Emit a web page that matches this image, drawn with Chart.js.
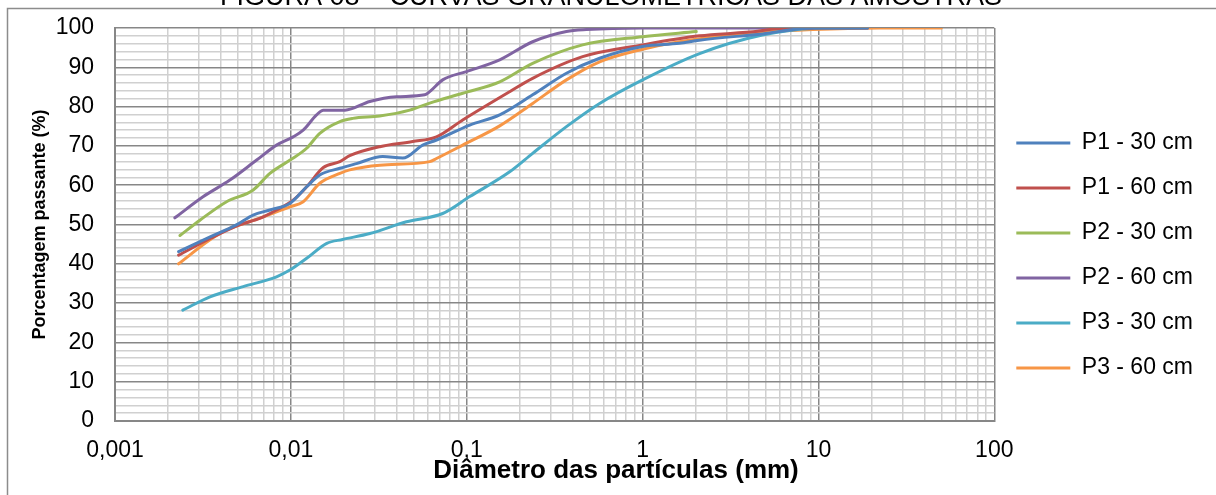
<!DOCTYPE html>
<html>
<head>
<meta charset="utf-8">
<script src="https://cdn.jsdelivr.net/npm/chart.js@4/dist/chart.umd.min.js"></script>
<style>
  html, body { margin: 0; padding: 0; background: #fff; }
</style>
</head>
<body>
<canvas id="grafico" width="1216" height="495"></canvas>
<script>
// titulo da figura (cortado no topo da imagem)
var figureTitle = "FIGURA 08 – CURVAS GRANULOMÉTRICAS DAS AMOSTRAS";
var xTitle = "Diâmetro das partículas (mm)";
var yTitle = "Porcentagem passante (%)";

var seriesNames = ["P1 - 30 cm", "P1 - 60 cm", "P2 - 30 cm", "P2 - 60 cm", "P3 - 30 cm", "P3 - 60 cm"];
var seriesColors = ["#4F81BD", "#C0504D", "#9BBB59", "#8064A2", "#4BACC6", "#F79646"];

// diametros (mm) e porcentagem passante de cada amostra
var p1_30_d = [0.0023, 0.0035, 0.0049, 0.0061, 0.0076, 0.0099, 0.0123, 0.0146, 0.019, 0.0236, 0.0333, 0.0433, 0.0562, 0.0673, 0.104, 0.154, 0.237, 0.369, 0.57, 1.0, 1.62, 2.1, 4.8, 9.25, 19];
var p1_30_p = [43.1, 46.9, 49.9, 52.4, 53.7, 55.4, 59.6, 62.6, 64.3, 65.5, 67.3, 66.9, 70.2, 71.5, 75.3, 77.9, 83.0, 88.5, 92.3, 95.3, 96.1, 96.9, 98.5, 100, 100];

var p1_60_d = [0.0023, 0.0035, 0.0051, 0.0067, 0.0083, 0.0103, 0.0123, 0.0153, 0.019, 0.0216, 0.032, 0.0493, 0.0673, 0.0949, 0.1755, 0.237, 0.456, 1.0, 2.11, 3.9, 6.84, 19];
var p1_60_p = [42.2, 46.5, 49.9, 51.6, 53.7, 56.2, 59.6, 64.5, 66.0, 67.5, 69.8, 71.1, 72.3, 76.6, 83.8, 87.2, 92.7, 95.7, 98.0, 98.9, 100, 100];

var p2_30_d = [0.00234, 0.00304, 0.00431, 0.00611, 0.0076, 0.0099, 0.0123, 0.0146, 0.019, 0.0225, 0.032, 0.0474, 0.0616, 0.0949, 0.154, 0.237, 0.456, 1.0, 2.02];
var p2_30_p = [47.2, 51.1, 55.8, 58.8, 63.0, 66.4, 69.4, 73.2, 76.2, 77.0, 77.6, 79.1, 80.9, 83.4, 86.3, 91.0, 95.7, 97.8, 99.1];

var p2_60_d = [0.00219, 0.00318, 0.0045, 0.00639, 0.00829, 0.0103, 0.01175, 0.014, 0.0153, 0.0203, 0.0281, 0.0399, 0.0577, 0.0616, 0.073, 0.0996, 0.154, 0.237, 0.369, 0.479, 1.0, 9.25];
var p2_60_p = [51.7, 57.1, 61.3, 66.4, 70.2, 72.3, 74.0, 77.9, 79.1, 79.1, 81.3, 82.5, 83.0, 83.8, 86.8, 88.9, 91.9, 96.5, 99.1, 99.6, 100, 100];

var p3_30_d = [0.00243, 0.00347, 0.00536, 0.00829, 0.00987, 0.0123, 0.016, 0.0197, 0.0281, 0.0454, 0.073, 0.104, 0.1755, 0.237, 0.369, 0.57, 1.0, 2.11, 4.8, 9.25, 19];
var p3_30_p = [28.2, 31.6, 34.2, 36.7, 38.4, 41.4, 45.2, 46.2, 47.7, 50.7, 52.8, 57.1, 63.4, 68.1, 74.9, 80.8, 86.8, 93.5, 98.2, 99.9, 100];

var p3_60_d = [0.0023, 0.00347, 0.00431, 0.00667, 0.00987, 0.01175, 0.0146, 0.019, 0.0216, 0.032, 0.0616, 0.0673, 0.0949, 0.154, 0.237, 0.369, 0.57, 1.0, 1.62, 3.9, 9.25, 22.2, 50];
var p3_60_p = [40.0, 46.1, 48.6, 51.6, 54.5, 55.8, 60.5, 63.0, 63.9, 65.1, 66.0, 66.8, 70.2, 75.1, 80.8, 86.8, 91.4, 94.6, 96.5, 98.6, 99.6, 100, 100];

// marcas dos eixos
var xDecades = [0.001, 0.01, 0.1, 1, 10, 100];
var yMajor = [0, 10, 20, 30, 40, 50, 60, 70, 80, 90, 100];

var allD = [p1_30_d, p1_60_d, p2_30_d, p2_60_d, p3_30_d, p3_60_d];
var allP = [p1_30_p, p1_60_p, p2_30_p, p2_60_p, p3_30_p, p3_60_p];

function toPoints(d, p) {
  return d.map(function (v, i) { return { x: v, y: p[i] }; });
}

function isDecade(v) {
  var l = Math.log10(v);
  return Math.abs(l - Math.round(l)) < 1e-9;
}

var datasets = seriesNames.map(function (name, i) {
  return {
    label: name,
    data: toPoints(allD[i], allP[i]),
    borderColor: seriesColors[i],
    backgroundColor: seriesColors[i],
    borderWidth: 3,
    borderCapStyle: "round",
    borderJoinStyle: "round",
    pointRadius: 0,
    pointHoverRadius: 0,
    fill: false,
    cubicInterpolationMode: "monotone"
  };
});

var fontFam = '"Liberation Sans", Arial, sans-serif';

// moldura, titulo da figura e titulo do eixo x
var moldura = {
  id: "moldura",
  beforeDraw: function (chart) {
    var c = chart.ctx;
    c.save();
    c.fillStyle = "#fff";
    c.fillRect(0, 0, chart.width, chart.height);
    c.strokeStyle = "#8c8c8c";
    c.lineWidth = 1.5;
    c.strokeRect(7.5, 8.5, chart.width + 20, chart.height + 20);
    c.fillStyle = "#000";
    c.font = "27px " + fontFam;
    c.textAlign = "center";
    c.textBaseline = "alphabetic";
    c.fillText(figureTitle, 611, 5);
    c.restore();
  },
  afterDraw: function (chart) {
    var c = chart.ctx;
    c.save();
    c.fillStyle = "#000";
    c.font = "bold 26px " + fontFam;
    c.textAlign = "center";
    c.textBaseline = "middle";
    c.fillText(xTitle, 616, 471);
    c.restore();
  }
};

var ctx = document.getElementById("grafico").getContext("2d");
var chart = new Chart(ctx, {
  type: "line",
  data: { datasets: datasets },
  plugins: [moldura],
  options: {
    responsive: false,
    animation: false,
    devicePixelRatio: 1,
    layout: { padding: { top: 22, left: 0, right: 13, bottom: 6 } },
    plugins: {
      legend: {
        position: "right",
        align: "center",
        labels: {
          usePointStyle: true,
          pointStyle: "line",
          pointStyleWidth: 54,
          padding: 22,
          color: "#000",
          font: { family: fontFam, size: 23 }
        }
      },
      tooltip: { enabled: false }
    },
    scales: {
      x: {
        type: "logarithmic",
        min: 0.001,
        max: 100,
        afterBuildTicks: function (s) {
          var t = [];
          for (var i = 0; i < xDecades.length - 1; i++) {
            for (var k = 1; k <= 9; k++) {
              t.push({ value: Number((k * xDecades[i]).toPrecision(6)), major: k === 1 });
            }
          }
          t.push({ value: xDecades[xDecades.length - 1], major: true });
          s.ticks = t;
        },
        afterFit: function (s) { s.height = 68; },
        ticks: {
          autoSkip: false,
          maxRotation: 0,
          padding: 16,
          color: "#000",
          font: { family: fontFam, size: 23 },
          callback: function (v) {
            return isDecade(v) ? String(v).replace(".", ",") : "";
          }
        },
        grid: {
          drawTicks: false,
          lineWidth: 1.5,
          color: function (c) {
            return c.tick && isDecade(c.tick.value) ? "#878787" : "#d0d0d0";
          }
        },
        border: { color: "#878787", width: 2 }
      },
      y: {
        type: "linear",
        min: 0,
        max: 100,
        afterBuildTicks: function (s) {
          var t = [];
          for (var i = 0; i < yMajor.length; i++) {
            t.push({ value: yMajor[i] });
            if (i < yMajor.length - 1) {
              for (var k = 1; k < 5; k++) t.push({ value: yMajor[i] + k * (yMajor[i + 1] - yMajor[i]) / 5 });
            }
          }
          s.ticks = t;
        },
        afterFit: function (s) {
          s.width = 115;
          s.paddingTop = 28;
        },
        ticks: {
          autoSkip: false,
          padding: 21,
          color: "#000",
          font: { family: fontFam, size: 23 },
          callback: function (v) { return v % 10 === 0 ? v : ""; }
        },
        grid: {
          drawTicks: false,
          lineWidth: 1.5,
          color: function (c) {
            return c.tick && c.tick.value % 10 === 0 ? "#878787" : "#d0d0d0";
          }
        },
        border: { color: "#878787", width: 2 },
        title: {
          display: true,
          text: yTitle,
          color: "#000",
          font: { family: fontFam, size: 18, weight: "bold" },
          padding: { top: 29, bottom: 29 }
        }
      }
    }
  }
});
</script>
</body>
</html>
